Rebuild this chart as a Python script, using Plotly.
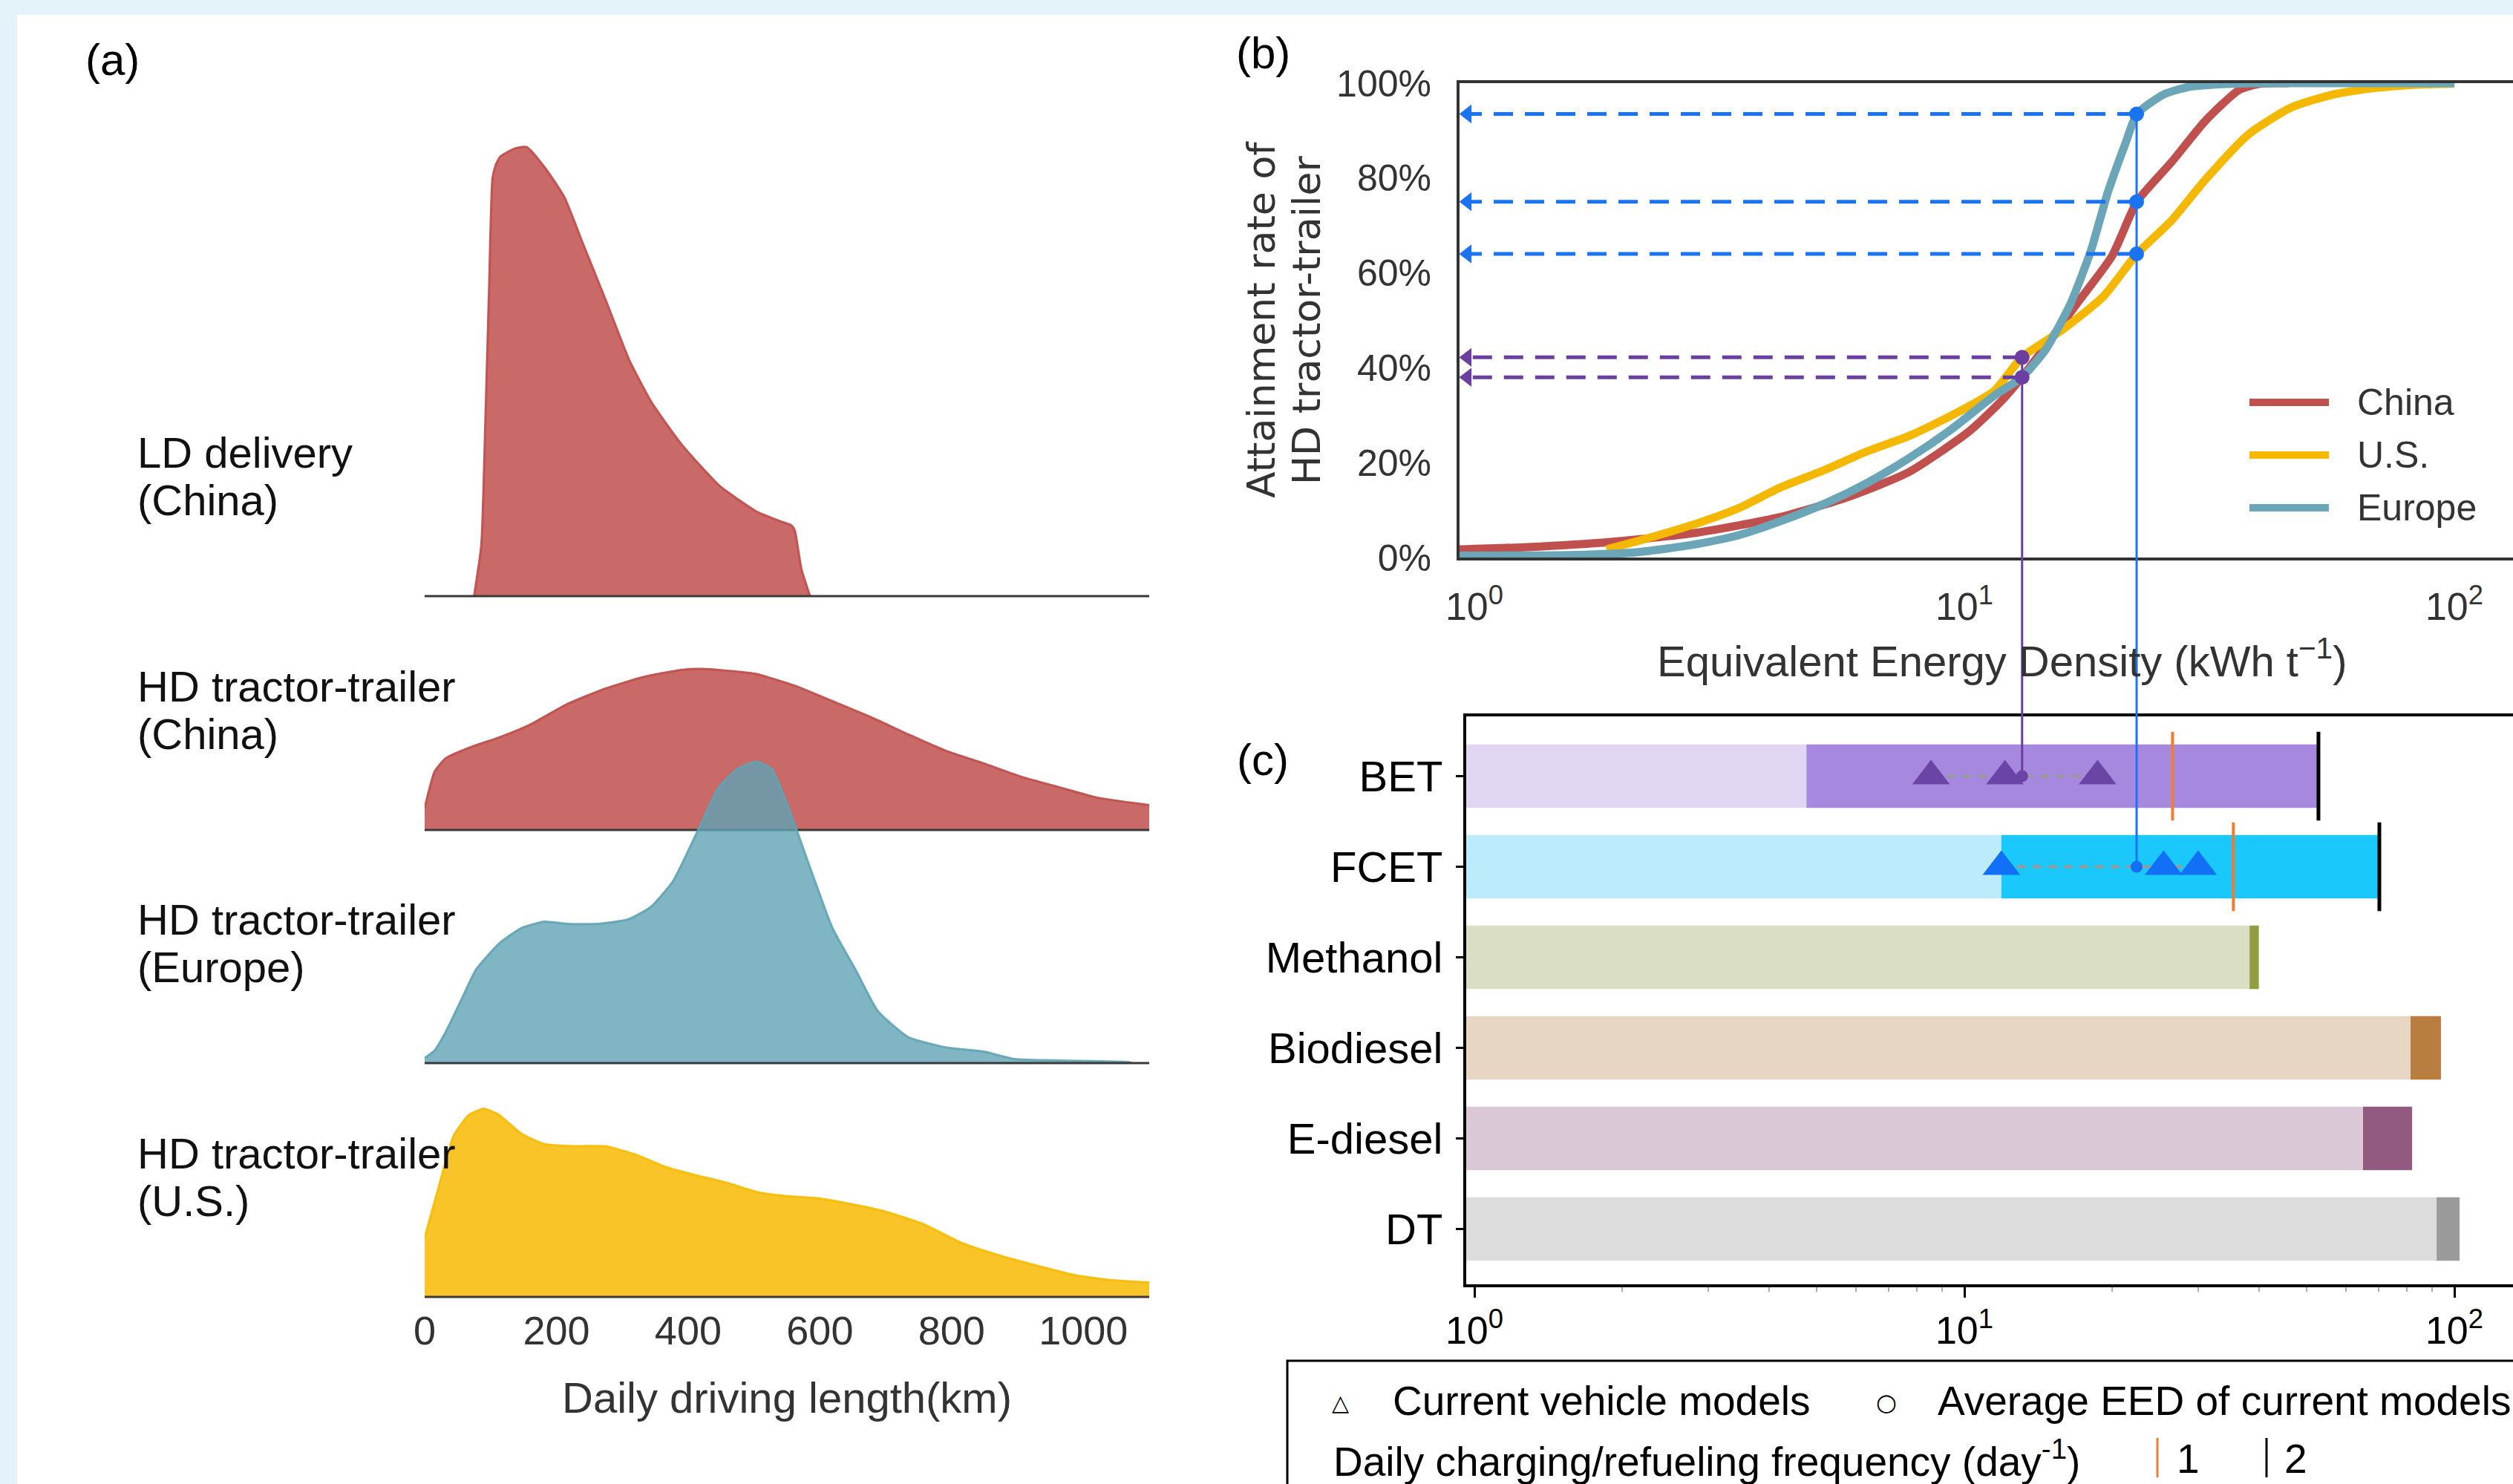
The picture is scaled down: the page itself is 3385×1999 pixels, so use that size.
import numpy as np
import plotly.graph_objects as go

W, H = 3385, 1999
FONT = "Liberation Sans, Arial, Helvetica, sans-serif"
DEJAVU = "DejaVu Sans, sans-serif"

# ---------------- Panel (a): daily driving length distributions ----------------
ridge_labels = [["LD delivery", "(China)"],
                ["HD tractor-trailer", "(China)"],
                ["HD tractor-trailer", "(Europe)"],
                ["HD tractor-trailer", "(U.S.)"]]
ridge_fill = ["rgba(192,80,77,0.85)", "rgba(192,80,77,0.85)", "rgba(96,163,180,0.80)", "rgba(247,186,2,0.85)"]
ridge_edge = ["rgba(192,80,77,0.95)", "rgba(192,80,77,0.95)", "rgba(96,163,180,0.9)", "rgba(247,186,2,0.9)"]

ld_km = [75, 86, 92, 98, 103, 108, 115, 138, 155, 184, 212, 241, 276, 310, 344, 390, 448, 505, 540, 557, 562, 567, 572, 585]
ld_den = [0.0, 0.49, 1.64, 3.01, 4.02, 4.15, 4.23, 4.31, 4.32, 4.11, 3.84, 3.38, 2.83, 2.28, 1.87, 1.46, 1.06, 0.81, 0.72, 0.68, 0.63, 0.45, 0.26, 0.0]

cn_km = [0, 15, 32, 67, 113, 159, 216, 274, 331, 389, 423, 481, 504, 561, 619, 676, 734, 792, 849, 907, 964, 1022, 1100]
cn_den = [0.21, 0.56, 0.69, 0.79, 0.89, 1.01, 1.21, 1.36, 1.47, 1.54, 1.55, 1.52, 1.50, 1.39, 1.24, 1.09, 0.92, 0.76, 0.64, 0.51, 0.41, 0.31, 0.24]

eu_km = [0, 15, 32, 55, 78, 113, 147, 182, 216, 262, 308, 343, 377, 412, 446, 475, 504, 527, 550, 584, 619, 654, 688, 734, 792, 849, 895, 964, 1068, 1073]
eu_den = [0.05, 0.12, 0.30, 0.60, 0.90, 1.15, 1.30, 1.36, 1.34, 1.34, 1.38, 1.50, 1.75, 2.20, 2.65, 2.83, 2.90, 2.83, 2.50, 1.90, 1.30, 0.90, 0.50, 0.25, 0.15, 0.11, 0.04, 0.025, 0.01, 0.0]

us_km = [0, 21, 44, 67, 90, 113, 147, 182, 228, 274, 320, 366, 412, 458, 504, 550, 596, 642, 700, 757, 815, 872, 930, 987, 1045, 1100]
us_den = [0.57, 1.05, 1.55, 1.75, 1.81, 1.75, 1.57, 1.47, 1.45, 1.45, 1.37, 1.25, 1.17, 1.10, 1.01, 0.97, 0.95, 0.90, 0.82, 0.70, 0.52, 0.40, 0.30, 0.21, 0.16, 0.14]

ridges_km = [ld_km, cn_km, eu_km, us_km]
ridges_den = [ld_den, cn_den, eu_den, us_den]
km_ticks = [0, 200, 400, 600, 800, 1000]
KM_RANGE = [0, 1100]

# ---------------- Panel (b): attainment rate CDFs ----------------
cdf_names = ["China", "U.S.", "Europe"]
cdf_colors = ["#c0504d", "#f5b800", "#6ba5b8"]
eed_china = [0.93, 1.28, 1.9, 2.83, 4.2, 5.8, 7.7, 10.2, 11.9, 13.1, 15.1, 17.1, 20.0, 22.5, 26.5, 31.0, 36.4, 40.3, 46.0]
cdf_china = [0.017, 0.022, 0.033, 0.052, 0.085, 0.128, 0.18, 0.265, 0.33, 0.38, 0.464, 0.54, 0.635, 0.75, 0.834, 0.92, 0.986, 0.999, 1.0]
eed_us = [1.86, 2.3, 2.83, 3.46, 4.2, 5.2, 6.3, 7.7, 9.4, 11.5, 13.1, 15.8, 19.2, 22.5, 26.5, 31.0, 37.9, 46.3, 56.5, 69.0, 84.0, 100.0]
cdf_us = [0.017, 0.043, 0.071, 0.104, 0.147, 0.185, 0.223, 0.256, 0.299, 0.351, 0.422, 0.479, 0.55, 0.64, 0.711, 0.796, 0.891, 0.948, 0.976, 0.99, 0.997, 0.999]
eed_eu = [0.93, 1.56, 2.14, 2.83, 3.46, 4.2, 5.2, 6.3, 7.7, 9.4, 11.5, 13.1, 14.6, 16.4, 18.1, 19.6, 21.3, 22.5, 25.5, 28.7, 33.7, 40.0, 100.0]
cdf_eu = [0.004, 0.005, 0.011, 0.028, 0.047, 0.076, 0.114, 0.156, 0.209, 0.27, 0.341, 0.38, 0.436, 0.531, 0.645, 0.768, 0.872, 0.935, 0.976, 0.992, 0.998, 1.0, 1.0]
pct_ticks = [0, 0.2, 0.4, 0.6, 0.8, 1.0]

# attainment read at the average EED of current models
attain_fcet = [0.935, 0.75, 0.64]   # Europe, China, U.S.
attain_bet = [0.422, 0.38]          # U.S., Europe/China

# ---------------- Panel (c): equivalent energy density ----------------
techs = ["BET", "FCET", "Methanol", "Biodiesel", "E-diesel", "DT"]
eed_light_end = [4.76, 11.9, 38.2, 81.4, 65.1, 92.0]
eed_dark_end = [52.8, 70.3, 39.9, 93.9, 82.0, 102.5]
light_colors = ["#e0d5f3", "#bcecfc", "#dadec5", "#e7d6c3", "#dac8d6", "#dcdcdc"]
dark_colors = ["#a688df", "#1ac8fc", "#929d3f", "#b97d40", "#935a80", "#9a9a9a"]
once_per_day = [26.6, 35.4]     # BET, FCET
twice_per_day = [52.8, 70.3]    # BET, FCET
bet_models = [8.55, 12.1, 18.7]
fcet_models = [11.9, 25.5, 30.0]
bet_color, fcet_color = "#6a45a5", "#1170f5"
eed_ticks = [1, 10, 100]
eed_ticktext = ["10<sup>0</sup>", "10<sup>1</sup>", "10<sup>2</sup>"]

bet_avg = float(np.mean(bet_models))
fcet_avg = float(np.mean(fcet_models))

# ---------------- layout helpers ----------------
def fx(px):
    return px / W

def fy(py):
    return 1 - py / H

fig = go.Figure()
layout = {}

# ---- panel (a) ----
bases_px = [803, 1118, 1432, 1747]
SCALE = 140.0
Y0 = -0.05
yids = ["y", "y2", "y3", "y4"]
for k, (kms, den) in enumerate(zip(ridges_km, ridges_den)):
    base = bases_px[k]
    bottom_px = base - Y0 * SCALE
    name = "yaxis" if k == 0 else "yaxis%d" % (k + 1)
    layout[name] = dict(domain=[fy(bottom_px), 1], range=[Y0, Y0 + bottom_px / SCALE],
                        visible=False, fixedrange=True, anchor="x", automargin=False)
    fig.add_trace(go.Scatter(x=kms, y=den, xaxis="x", yaxis=yids[k], mode="lines",
                             fill="tozeroy", fillcolor=ridge_fill[k],
                             line=dict(color=ridge_edge[k], width=3, shape="spline", smoothing=0.5),
                             showlegend=False, hoverinfo="skip"))
    fig.add_trace(go.Scatter(x=KM_RANGE, y=[0, 0], xaxis="x", yaxis=yids[k], mode="lines",
                             line=dict(color="#3a3a3a", width=3), showlegend=False, hoverinfo="skip"))

layout["xaxis"] = dict(domain=[fx(572), fx(1548)], range=KM_RANGE, anchor="free", position=fy(1756),
                       automargin=False, showline=False, showgrid=False, zeroline=False,
                       tickvals=km_ticks, ticks="",
                       tickfont=dict(family=FONT, size=54, color="#333"))

# ---- panel (b) ----
XR1 = (3385 - 1986) / 660.0
XB0 = (1966 - 1986) / 660.0
XC0 = (1975 - 1986) / 660.0
layout["xaxis2"] = dict(type="log", domain=[fx(1966), 1], range=[XB0, XR1], anchor="y5", automargin=False,
                        showline=True, mirror=True, linecolor="#333", linewidth=4,
                        showgrid=False, zeroline=False, tickvals=eed_ticks, ticktext=eed_ticktext,
                        ticks="outside", ticklen=18, tickcolor="rgba(0,0,0,0)",
                        tickfont=dict(family=FONT, size=52, color="#333"))
layout["yaxis5"] = dict(domain=[fy(751), fy(112)], range=[0, 1], anchor="x2", automargin=False,
                        showline=True, mirror=True, linecolor="#333", linewidth=4,
                        showgrid=False, zeroline=False, tickvals=pct_ticks, tickformat=".0%",
                        ticks="outside", ticklen=24, tickcolor="rgba(0,0,0,0)",
                        tickfont=dict(family=FONT, size=50, color="#333"))

for name, xs, ys, col in zip(cdf_names, [eed_china, eed_us, eed_eu], [cdf_china, cdf_us, cdf_eu], cdf_colors):
    fig.add_trace(go.Scatter(x=xs, y=ys, xaxis="x2", yaxis="y5", mode="lines", name=name,
                             line=dict(color=col, width=11, shape="spline", smoothing=0.6),
                             showlegend=False, hoverinfo="skip"))

arrow_tip_x = 10 ** (XB0 + 0.016)
BLUE, PURPLE = "#1a73f0", "#6a3fa0"
for val, pcts, col in [(fcet_avg, attain_fcet, BLUE), (bet_avg, attain_bet, PURPLE)]:
    for p in pcts:
        fig.add_trace(go.Scatter(x=[val, arrow_tip_x], y=[p, p], xaxis="x2", yaxis="y5", mode="lines",
                                 line=dict(color=col, width=5, dash="26px,16px"),
                                 showlegend=False, hoverinfo="skip"))
    fig.add_trace(go.Scatter(x=[arrow_tip_x] * len(pcts), y=pcts, xaxis="x2", yaxis="y5", mode="markers",
                             marker=dict(symbol="triangle-left", size=22, color=col),
                             showlegend=False, hoverinfo="skip"))
    # vertical connector inside panel (b)
    fig.add_trace(go.Scatter(x=[val, val], y=[max(pcts), -0.5], xaxis="x2", yaxis="y5", mode="lines",
                             line=dict(color=col, width=3), showlegend=False, hoverinfo="skip"))
    fig.add_trace(go.Scatter(x=[val] * len(pcts), y=pcts, xaxis="x2", yaxis="y5", mode="markers",
                             marker=dict(symbol="circle", size=20, color=col),
                             showlegend=False, hoverinfo="skip"))

# ---- panel (c) ----
n = len(techs)
rows = list(range(n))
layout["xaxis3"] = dict(type="log", domain=[fx(1975), 1], range=[XC0, XR1], anchor="y6", automargin=False,
                        showline=True, mirror=True, linecolor="black", linewidth=4,
                        showgrid=False, zeroline=False, tickvals=eed_ticks, ticktext=eed_ticktext,
                        ticks="outside", ticklen=14, tickwidth=3, tickcolor="black",
                        minor=dict(tickvals=[2, 3, 4, 5, 6, 7, 8, 9, 20, 30, 40, 50, 60, 70, 80, 90],
                                   ticks="outside", ticklen=6, tickwidth=2, tickcolor="#aaa"),
                        tickfont=dict(family=FONT, size=52, color="black"))
layout["yaxis6"] = dict(domain=[fy(1730), fy(965)], range=[n - 1 + 0.61, -0.66], anchor="x3", automargin=False,
                        showline=True, mirror=True, linecolor="black", linewidth=4,
                        showgrid=False, zeroline=False, tickvals=rows, ticktext=techs,
                        ticks="outside", ticklen=10, tickwidth=3, tickcolor="black",
                        ticklabelstandoff=6,
                        tickfont=dict(family=FONT, size=58, color="black"))

BAR_FLOOR = 0.1
fig.add_trace(go.Bar(orientation="h", y=rows, base=[BAR_FLOOR] * n,
                     x=[e - BAR_FLOOR for e in eed_light_end], width=0.7,
                     marker=dict(color=light_colors, line=dict(width=0)),
                     xaxis="x3", yaxis="y6", showlegend=False, hoverinfo="skip"))
fig.add_trace(go.Bar(orientation="h", y=rows, base=eed_light_end,
                     x=[d - l for d, l in zip(eed_dark_end, eed_light_end)], width=0.7,
                     marker=dict(color=dark_colors, line=dict(width=0)),
                     xaxis="x3", yaxis="y6", showlegend=False, hoverinfo="skip"))

bar_px = 0.7 * (1730 - 965) / (n - 1 + 0.61 + 0.66)
fig.add_trace(go.Scatter(x=once_per_day, y=rows[:2], xaxis="x3", yaxis="y6", mode="markers",
                         marker=dict(symbol="line-ns", size=bar_px, line=dict(color="#ee7d34", width=4)),
                         showlegend=False, hoverinfo="skip"))
fig.add_trace(go.Scatter(x=twice_per_day, y=rows[:2], xaxis="x3", yaxis="y6", mode="markers",
                         marker=dict(symbol="line-ns", size=bar_px, line=dict(color="black", width=5)),
                         showlegend=False, hoverinfo="skip"))

for r, models, avg, col in [(0, bet_models, bet_avg, bet_color), (1, fcet_models, fcet_avg, fcet_color)]:
    fig.add_trace(go.Scatter(x=[min(models), max(models)], y=[r, r], xaxis="x3", yaxis="y6", mode="lines",
                             line=dict(color="#999", width=4, dash="12px,9px"),
                             showlegend=False, hoverinfo="skip"))

# vertical connectors inside panel (c)
for r, avg, col in [(0, bet_avg, PURPLE), (1, fcet_avg, BLUE)]:
    fig.add_trace(go.Scatter(x=[avg, avg], y=[r, -3], xaxis="x3", yaxis="y6", mode="lines",
                             line=dict(color=col, width=3), showlegend=False, hoverinfo="skip"))

for r, models, avg, col in [(0, bet_models, bet_avg, bet_color), (1, fcet_models, fcet_avg, fcet_color)]:
    fig.add_trace(go.Scatter(x=models, y=[r] * len(models), xaxis="x3", yaxis="y6", mode="markers",
                             marker=dict(symbol="triangle-up", size=44, color=col),
                             showlegend=False, hoverinfo="skip"))
    fig.add_trace(go.Scatter(x=[avg], y=[r], xaxis="x3", yaxis="y6", mode="markers",
                             marker=dict(symbol="circle", size=16, color=col),
                             showlegend=False, hoverinfo="skip"))

# ---------------- shapes ----------------
shapes = []
# white panel over light-blue frame
shapes.append(dict(type="rect", xref="paper", yref="paper", x0=fx(23), x1=1.02, y0=-0.02, y1=fy(20),
                   fillcolor="white", line=dict(width=0), layer="below"))
# connectors between (b) and (c)
for val, col in [(bet_avg, PURPLE), (fcet_avg, BLUE)]:
    shapes.append(dict(type="line", xref="x2", yref="paper", x0=val, x1=val,
                       y0=layout["yaxis6"]["domain"][1], y1=layout["yaxis5"]["domain"][0],
                       line=dict(color=col, width=3)))
# legend of (b)
for i, col in enumerate(cdf_colors):
    yy = fy(542 + 71 * i)
    shapes.append(dict(type="line", xref="paper", yref="paper", x0=fx(3030), x1=fx(3137), y0=yy, y1=yy,
                       line=dict(color=col, width=10)))
# legend box of (c)
shapes.append(dict(type="rect", xref="paper", yref="paper", x0=fx(1734), x1=1.05, y0=-0.05, y1=fy(1833),
                   line=dict(color="black", width=3), fillcolor="rgba(0,0,0,0)"))
shapes.append(dict(type="line", xref="paper", yref="paper", x0=fx(2906), x1=fx(2906), y0=fy(1937), y1=fy(1990),
                   line=dict(color="#ee7d34", width=3)))
shapes.append(dict(type="line", xref="paper", yref="paper", x0=fx(3053), x1=fx(3053), y0=fy(1937), y1=fy(1990),
                   line=dict(color="black", width=3)))

# ---------------- annotations ----------------
ann = []

def text(px, py, s, size, color="black", family=FONT, xanchor="center", angle=0):
    ann.append(dict(x=fx(px), y=fy(py), xref="paper", yref="paper", text=s, showarrow=False,
                    xanchor=xanchor, yanchor="middle", textangle=angle,
                    font=dict(family=family, size=size, color=color)))

text(151, 80, "(a)", 60)
text(1701, 71, "(b)", 60)
text(1701, 1023, "(c)", 60)

for k, lines in enumerate(ridge_labels):
    for j, s in enumerate(lines):
        ann.append(dict(x=fx(183), xref="paper", y=(194 - 64 * j) / SCALE, yref=yids[k], text=s,
                        showarrow=False, xanchor="left", yanchor="middle",
                        font=dict(family=FONT, size=58, color="#111")))

text(1060, 1882, "Daily driving length(km)", 58, "#333")
text(1699, 431, "Attainment rate of", 52, "#333", DEJAVU, angle=-90)
text(1760, 431, "HD tractor-trailer", 52, "#333", DEJAVU, angle=-90)
text(2697, 887, "Equivalent Energy Density (kWh t<sup>\u22121</sup>)", 58, "#333")
for i, name in enumerate(cdf_names):
    text(3173, 542 + 71 * i, name, 50, "#333", xanchor="left")

text(1805, 1889, "\u25b3", 30, "black", DEJAVU)
text(1874, 1887, "Current vehicle models", 55, xanchor="left")
text(2541, 1889, "\u25cb", 32, "black", DEJAVU)
text(2608, 1887, "Average EED of current models", 55, xanchor="left")
text(1794, 1965, "Daily charging/refueling frequency (day<sup>-1</sup>)", 55, xanchor="left")
text(2947, 1965, "1", 55)
text(3092, 1965, "2", 55)

layout.update(dict(width=W, height=H, margin=dict(l=0, r=0, t=0, b=0, pad=0, autoexpand=False),
                   paper_bgcolor="#e4f2f9", plot_bgcolor="rgba(0,0,0,0)",
                   barmode="overlay", showlegend=False,
                   shapes=shapes, annotations=ann,
                   font=dict(family=FONT, color="black")))
fig.update_layout(**layout)
fig.write_html("out.html", config={"displayModeBar": False},
               post_script="document.body.style.margin='0';document.body.style.overflow='hidden';")
